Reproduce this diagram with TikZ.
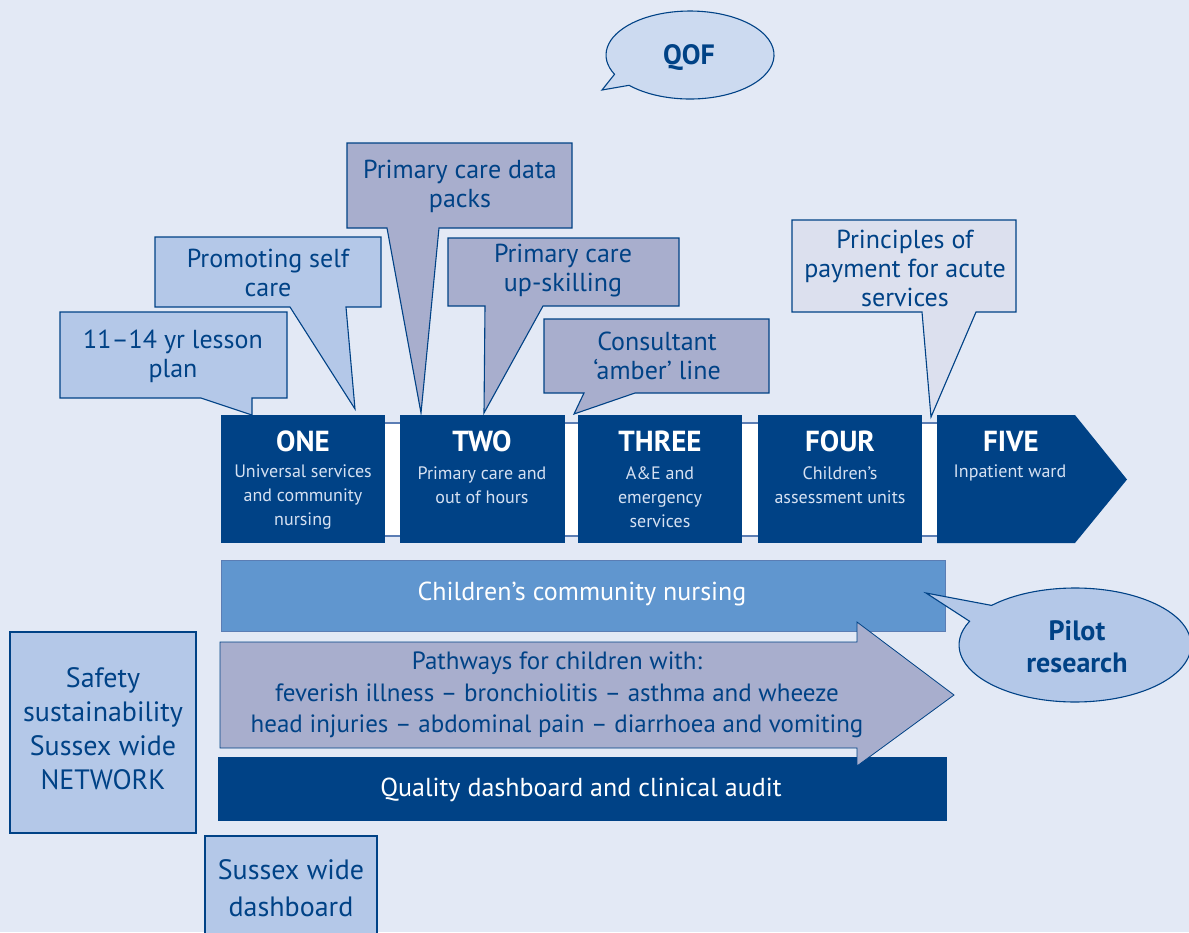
\documentclass[tikz,border=0pt]{standalone}
\usepackage{fontspec}
\setmainfont{PT Sans}
\usetikzlibrary{positioning}

\definecolor{bgblue}{RGB}{227,233,245}
\definecolor{navy}{RGB}{0,66,134}
\definecolor{paleblue}{RGB}{180,200,232}
\definecolor{greyblue}{RGB}{168,174,205}
\definecolor{mistblue}{RGB}{220,224,238}
\definecolor{midblue}{RGB}{96,150,207}
\definecolor{qofblue}{RGB}{204,218,240}
\definecolor{bandline}{RGB}{91,125,180}
\definecolor{subtext}{RGB}{214,225,242}

\begin{document}
\begin{tikzpicture}[x=1pt,y=-1pt,
  outline/.style={draw=navy,line width=1.1pt,line join=miter},
  txt/.style={text=navy,align=center,inner sep=0pt,font=\fontsize{26}{29}\selectfont},
  stage/.style={fill=navy,anchor=north west,minimum width=164pt,minimum height=128pt,inner sep=0pt},
  stagetitle/.style={text=white,inner sep=0pt,font=\bfseries\fontsize{29}{30}\selectfont},
  stagetext/.style={text=subtext,align=center,inner sep=0pt,font=\fontsize{18}{24}\selectfont},
  bartext/.style={text=white,inner sep=0pt,font=\fontsize{26}{30}\selectfont}]
\clip (0,0) rectangle (1189,932);
\fill[bgblue] (0,0) rectangle (1189,932);

% the white band behind the five stages
\fill[white] (221,423) rectangle (1075,536);
\draw[bandline,line width=1.6pt] (221,423) -- (1075,423) (221,536) -- (1075,536);

% the stages
\node[stage] (one) at (221,415) {};
\node[stage,minimum width=165pt] (two) at (400,415) {};
\node[stage] (three) at (578,415) {};
\node[stage] (four) at (758,415) {};
\fill[navy] (937,415) -- (1075,415) -- (1127,479.5) -- (1075,543) -- (937,543) -- cycle;

\node[stagetitle] (one-t) at (303,441) {ONE};
\node[stagetitle] (two-t) at (482,441) {TWO};
\node[stagetitle] (three-t) at (660,441) {THREE};
\node[stagetitle] (four-t) at (840,441) {FOUR};
\node[stagetitle] (five-t) at (1011,441) {FIVE};
\node[stagetext] (one-s) at (303,497) {Universal services\\and community\\nursing};
\node[stagetext] (two-s) at (482,485) {Primary care and\\out of hours};
\node[stagetext] (three-s) at (660,497) {A\&E and\\emergency\\services};
\node[stagetext] (four-s) at (840,485) {Children’s\\assessment units};
\node[stagetext] (five-s) at (1010,473) {Inpatient ward};

% callouts above the stages
\draw[outline,fill=greyblue] (347,143) -- (572,143) -- (572,228) -- (439,228) -- (421,413) -- (387,228) -- (347,228) -- cycle;
\node[txt] (datapacks) at (460,186) {Primary care data\\packs};

\draw[outline,fill=paleblue] (155,237) -- (381,237) -- (381,307) -- (346,307) -- (355,409) -- (290,307) -- (155,307) -- cycle;
\node[txt] (selfcare) at (268,273) {Promoting self\\care};

\draw[outline,fill=paleblue] (60,312) -- (287,312) -- (287,398) -- (252,398) -- (252,415) -- (201,398) -- (60,398) -- cycle;
\node[txt] (lesson) at (173,356) {11–14 yr lesson\\plan};

\draw[outline,fill=greyblue] (448,238) -- (679,238) -- (679,306) -- (543,306) -- (484,413) -- (485,306) -- (448,306) -- cycle;
\node[txt] (upskill) at (563,271) {Primary care\\up-skilling};

\draw[outline,fill=greyblue] (544,319) -- (769,319) -- (769,393) -- (635,393) -- (574,414) -- (584,393) -- (544,393) -- cycle;
\node[txt] (amber) at (657,356) {Consultant\\‘amber’ line};

\draw[outline,fill=mistblue] (792,220) -- (1016,220) -- (1016,312) -- (976,312) -- (931,417) -- (922,312) -- (792,312) -- cycle;
\node[txt] (payment) at (905,268) {Principles of\\payment for acute\\services};

% QOF bubble
\draw[outline,fill=qofblue] (602,90) -- (629.1,85.3)
  arc[start angle=136.5,end angle=-206,x radius=84,y radius=44] -- cycle;
\node[txt,font=\bfseries\fontsize{28}{30}\selectfont] (qof) at (689,58) {QOF};

% the bars under the stages
\draw[fill=midblue,draw=bandline,line width=1pt] (221,560) rectangle (945,631);
\node[bartext] (nursing) at (582,594) {Children’s community nursing};
\fill[navy] (218,757) rectangle (947,821);
\node[bartext] (audit) at (581,790) {Quality dashboard and clinical audit};
\draw[draw=navy,line width=0.8pt,fill=greyblue] (220,642) -- (857,642) -- (857,622) -- (954,695)
  -- (857,766) -- (857,748) -- (220,748) -- cycle;
\node[txt,font=\fontsize{25}{31.5}\selectfont] (pathways) at (557,695)
  {Pathways for children with:\\feverish illness – bronchiolitis – asthma and wheeze\\head injuries – abdominal pain – diarrhoea and vomiting};

% pilot research bubble
\draw[outline,fill=paleblue] (926,593) -- (991.6,605.4)
  arc[start angle=-136,end angle=204.6,x radius=116,y radius=57] -- cycle;
\node[txt,font=\bfseries\fontsize{28}{32}\selectfont] (pilot) at (1077,647) {Pilot\\research};

% boxes on the left
\draw[outline,fill=paleblue] (10,632) rectangle (196,833);
\node[txt,font=\fontsize{28}{34}\selectfont] (network) at (103,729) {Safety\\sustainability\\Sussex wide\\NETWORK};
\draw[outline,fill=paleblue] (205,836) rectangle (377,945);
\node[txt,font=\fontsize{28}{37}\selectfont] (dashboard) at (291,888) {Sussex wide\\dashboard};
\end{tikzpicture}
\end{document}
